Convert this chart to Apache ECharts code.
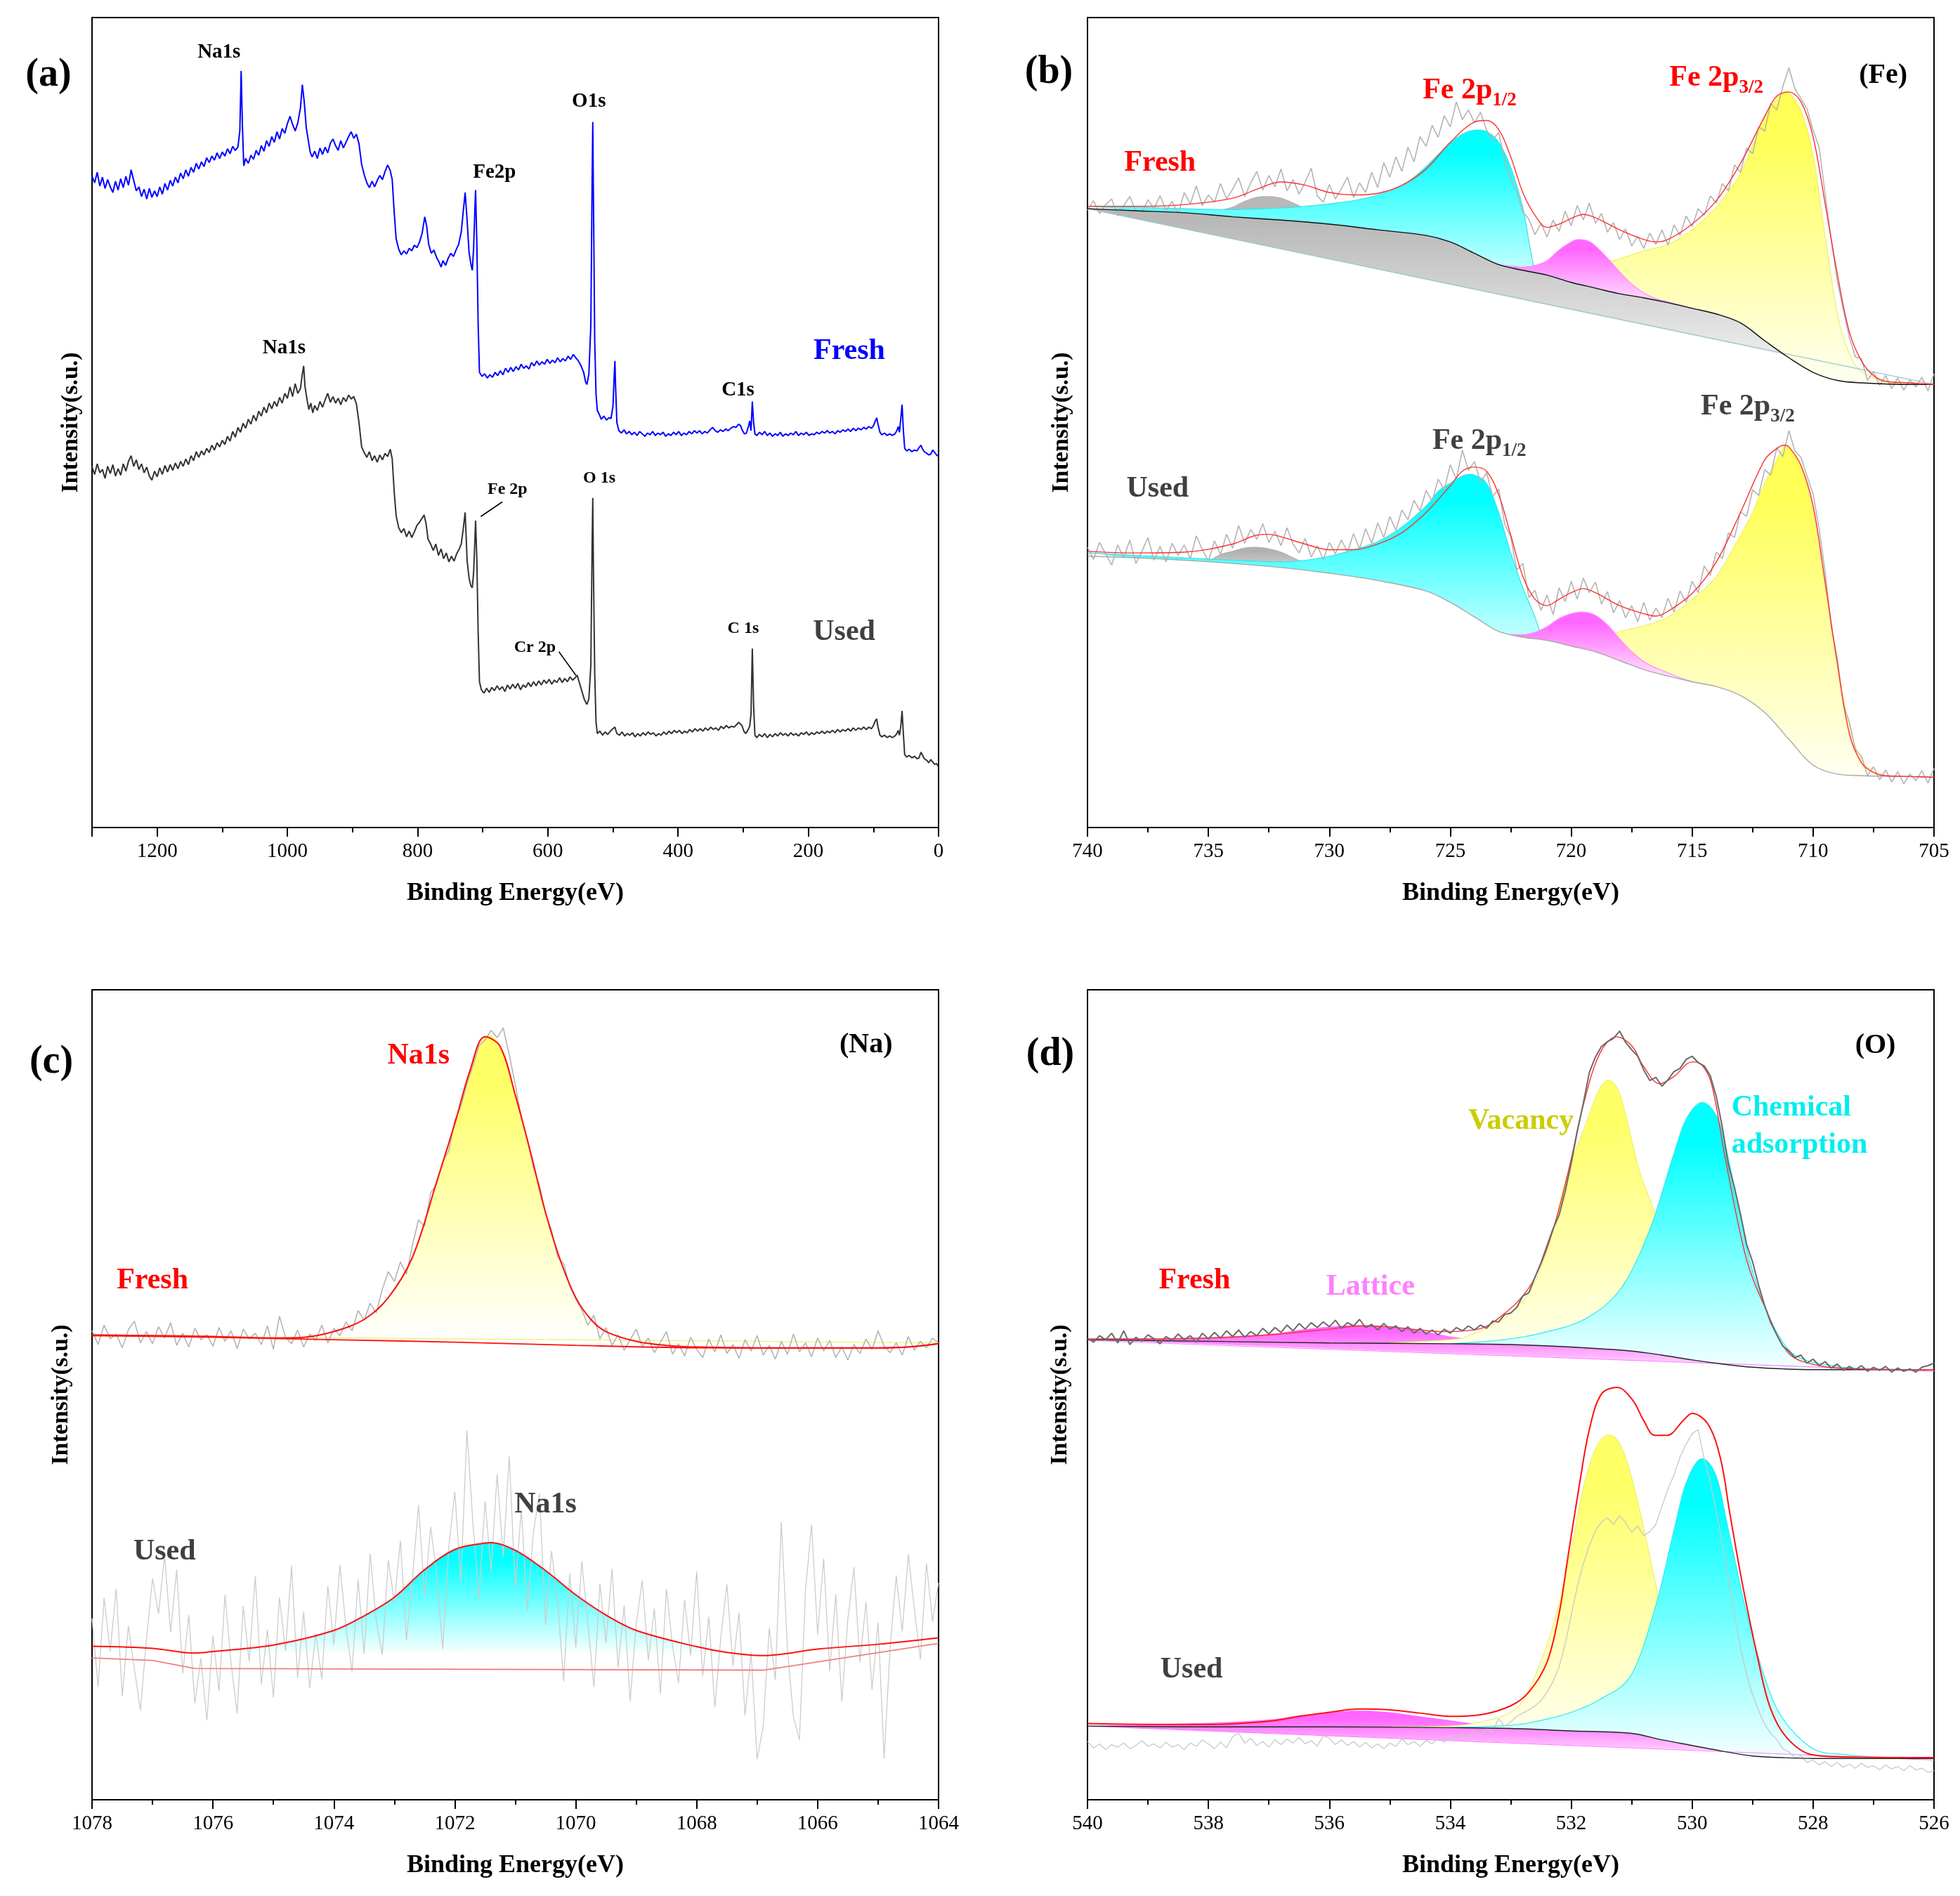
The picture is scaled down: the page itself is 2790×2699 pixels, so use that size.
<!DOCTYPE html>
<html><head><meta charset="utf-8">
<script src="https://cdn.jsdelivr.net/npm/echarts@6/dist/echarts.min.js"></script>
<style>html,body{margin:0;padding:0;background:#fff}#c{width:2790px;height:2699px}</style>
</head><body><div id="c"></div>
<script>
// ================= DATA =================
// ---- panel (a): survey spectra ----
const aFresh = [[1300,80.4],[1296,79.6],[1292,80.9],[1288,79.2],[1284,80.3],[1280,78.9],[1276,80.0],[1272,79.1],[1268,78.4],[1264,79.8],[1260,78.7],[1256,80.1],[1252,79.0],[1248,80.4],[1244,79.3],[1240,81.2],[1236,79.9],[1232,78.6],[1228,79.1],[1224,77.9],[1220,78.8],[1216,77.6],[1212,78.9],[1208,77.8],[1204,78.6],[1200,77.9],[1196,79.1],[1192,78.2],[1188,79.5],[1184,78.7],[1180,79.9],[1176,79.2],[1172,80.3],[1168,79.6],[1164,80.8],[1160,80.1],[1156,81.2],[1152,80.4],[1148,81.5],[1144,80.9],[1140,82.0],[1136,81.3],[1132,82.2],[1128,81.6],[1124,82.7],[1120,82.1],[1116,82.9],[1112,82.4],[1108,83.3],[1104,82.6],[1100,83.4],[1096,82.9],[1092,83.8],[1088,83.2],[1084,84.1],[1080,83.6],[1076,84.0],[1073,86.0],[1071,93.4],[1069,86.5],[1067,81.7],[1064,82.6],[1060,82.0],[1056,83.0],[1052,82.5],[1048,83.6],[1044,83.0],[1040,84.2],[1036,83.5],[1032,84.8],[1028,84.1],[1024,85.3],[1020,84.6],[1016,85.9],[1012,85.0],[1008,86.3],[1004,85.7],[1000,86.9],[996,87.8],[992,86.8],[988,86.0],[984,87.0],[980,88.8],[977,91.7],[974,89.5],[971,86.4],[968,84.9],[965,83.4],[962,82.8],[958,83.5],[954,82.6],[950,83.9],[946,83.1],[942,84.0],[938,83.3],[934,84.5],[930,85.0],[926,84.2],[922,83.6],[918,84.8],[914,83.9],[910,84.6],[906,85.3],[902,85.9],[898,85.1],[894,85.6],[890,84.4],[886,81.9],[882,80.6],[878,79.6],[874,79.0],[870,79.8],[866,79.1],[862,79.9],[858,80.5],[854,80.0],[850,81.0],[846,81.8],[842,81.1],[839,80.0],[836,76.0],[833,72.7],[829,71.4],[825,70.7],[821,71.2],[817,70.8],[813,71.5],[809,71.2],[805,71.9],[801,71.6],[797,72.3],[793,73.4],[789,75.4],[786,74.2],[783,72.0],[779,70.9],[775,71.3],[771,70.4],[767,69.8],[764,69.2],[761,70.0],[757,69.4],[753,70.3],[749,70.9],[745,70.5],[741,71.3],[737,72.0],[733,73.5],[730,76.0],[727,78.4],[724,75.0],[721,71.0],[718,69.5],[716,68.8],[714,71.5],[712,76.5],[711,78.7],[709,72.0],[707,62.0],[705,56.2],[701,55.7],[697,56.0],[693,55.5],[689,55.9],[685,55.6],[681,56.2],[677,55.8],[673,56.4],[669,55.9],[665,56.7],[661,56.2],[657,56.8],[653,56.3],[649,56.9],[645,56.5],[641,57.2],[637,56.7],[633,57.0],[629,56.6],[625,57.4],[621,57.0],[617,57.6],[613,57.1],[609,57.5],[605,57.2],[601,57.8],[597,57.3],[593,57.7],[589,57.4],[585,58.0],[581,57.5],[577,57.9],[573,57.6],[569,58.2],[565,57.8],[561,58.4],[557,58.0],[553,57.6],[549,57.0],[545,56.2],[542,55.0],[540,54.7],[537,56.0],[534,62.0],[532,80.0],[531,87.1],[530,78.0],[528,60.0],[526,53.5],[524,51.5],[521,51.0],[518,50.4],[514,50.8],[510,50.3],[506,50.6],[503,50.5],[500,52.0],[498,56.0],[497,57.6],[496,54.5],[494,50.0],[491,49.0],[487,48.7],[483,49.1],[479,48.6],[475,48.9],[471,48.5],[467,48.8],[463,48.4],[459,48.9],[455,48.6],[451,48.3],[447,48.7],[443,48.5],[439,48.9],[435,48.4],[431,48.7],[427,48.5],[423,48.8],[419,48.3],[415,48.6],[411,48.4],[407,48.8],[403,48.5],[399,48.9],[395,48.4],[391,48.7],[387,48.5],[383,48.9],[379,48.6],[375,49.0],[371,48.7],[367,49.0],[363,48.6],[359,48.9],[355,48.7],[351,49.1],[347,49.4],[343,49.0],[339,48.8],[335,49.1],[331,48.9],[327,49.2],[323,49.0],[319,49.3],[315,49.5],[311,49.4],[307,49.8],[304,49.6],[301,49.0],[298,48.6],[295,48.7],[292,49.5],[290,50.2],[288,49.0],[286,52.6],[284,50.0],[282,48.6],[279,48.4],[275,48.8],[271,48.5],[267,48.9],[263,48.4],[259,48.7],[255,48.3],[251,48.6],[247,48.4],[243,48.8],[239,48.3],[235,48.6],[231,48.4],[227,48.7],[223,48.5],[219,48.9],[215,48.4],[211,48.7],[207,48.5],[203,48.8],[199,48.4],[195,48.6],[191,48.5],[187,48.8],[183,48.6],[179,48.9],[175,48.7],[171,49.0],[167,48.7],[163,48.9],[159,48.6],[155,49.0],[151,48.8],[147,49.1],[143,48.9],[139,49.2],[135,48.9],[131,49.3],[127,49.0],[123,49.3],[119,49.1],[115,49.4],[111,49.2],[107,49.5],[103,49.3],[100,49.6],[97,50.2],[95,50.6],[93,49.8],[90,48.8],[87,48.5],[83,48.7],[79,48.4],[75,48.6],[71,48.4],[67,48.6],[64,49.0],[62,49.5],[60,48.8],[58,50.5],[56,52.2],[54,49.0],[52,46.8],[49,46.5],[45,46.7],[41,46.4],[37,46.6],[33,46.5],[30,46.9],[27,47.2],[25,46.8],[22,46.4],[18,46.2],[15,46.0],[12,46.1],[9,46.6],[6,46.3],[3,46.0],[0,45.8]];
const aUsed = [[1300,44.5],[1296,43.6],[1292,44.9],[1288,43.8],[1284,44.2],[1280,43.1],[1276,44.6],[1272,43.7],[1268,44.8],[1264,43.4],[1260,44.3],[1256,43.5],[1252,44.9],[1248,44.0],[1244,45.2],[1240,45.9],[1236,44.6],[1232,45.4],[1228,44.2],[1224,44.9],[1220,43.8],[1216,44.5],[1212,43.4],[1208,42.9],[1204,44.0],[1200,43.3],[1196,44.4],[1192,43.6],[1188,44.7],[1184,43.9],[1180,44.8],[1176,44.1],[1172,45.0],[1168,44.3],[1164,45.2],[1160,44.6],[1156,45.5],[1152,44.8],[1148,45.9],[1144,45.3],[1140,46.4],[1136,45.7],[1132,46.5],[1128,46.0],[1124,46.8],[1120,46.3],[1116,47.2],[1112,46.6],[1108,47.5],[1104,47.0],[1100,47.8],[1096,47.3],[1092,48.3],[1088,47.7],[1084,48.9],[1080,48.2],[1076,49.4],[1072,48.8],[1068,49.9],[1064,49.3],[1060,50.4],[1056,49.8],[1052,50.9],[1048,50.2],[1044,51.4],[1040,50.8],[1036,51.9],[1032,51.2],[1028,52.4],[1024,51.7],[1020,52.6],[1016,52.0],[1012,53.1],[1008,52.4],[1004,53.6],[1000,53.0],[996,54.4],[992,53.2],[988,54.8],[984,53.6],[980,54.2],[977,56.0],[975,57.0],[973,54.5],[970,52.9],[967,51.6],[964,52.4],[961,51.2],[958,52.1],[954,51.5],[950,52.6],[946,51.9],[942,52.8],[938,53.6],[934,52.5],[930,53.2],[926,52.4],[922,53.0],[918,52.2],[914,53.1],[910,52.6],[906,53.4],[902,52.9],[898,53.2],[894,52.3],[890,50.0],[886,47.0],[882,46.3],[878,45.7],[874,46.4],[870,45.3],[866,45.9],[862,45.1],[858,46.0],[854,45.4],[850,46.2],[846,45.8],[842,46.7],[839,45.5],[836,41.5],[833,38.5],[829,37.0],[825,36.4],[821,36.9],[817,35.9],[813,36.6],[809,35.8],[805,36.5],[801,37.3],[797,37.7],[793,38.2],[790,38.6],[787,37.5],[784,35.6],[780,35.0],[776,34.2],[772,35.0],[768,33.6],[764,34.4],[760,33.2],[756,33.9],[752,32.8],[748,33.5],[744,32.9],[740,33.8],[736,34.4],[733,35.0],[730,36.8],[727,38.9],[724,33.0],[721,30.8],[718,29.8],[716,29.6],[714,31.5],[712,35.5],[711,37.9],[709,33.0],[707,24.0],[705,18.0],[702,17.0],[698,16.6],[694,17.2],[690,16.7],[686,17.3],[682,16.9],[678,17.5],[674,17.0],[670,17.4],[666,16.8],[662,17.6],[658,17.1],[654,17.7],[650,17.2],[646,17.8],[642,17.0],[638,17.6],[634,17.3],[630,17.9],[626,17.4],[622,18.0],[618,17.5],[614,18.1],[610,17.6],[606,18.2],[602,17.8],[598,18.3],[594,17.7],[590,18.2],[586,17.9],[582,18.5],[578,17.9],[574,18.4],[570,18.0],[566,18.6],[562,18.2],[558,18.5],[555,18.8],[552,18.0],[548,16.9],[544,15.8],[540,15.2],[537,15.9],[534,20.0],[532,35.0],[531,40.7],[530,32.0],[528,19.0],[526,13.0],[524,11.6],[520,11.9],[516,11.4],[512,11.8],[508,11.5],[504,11.9],[500,12.2],[497,12.4],[494,11.6],[490,11.4],[486,11.8],[482,11.3],[478,11.6],[474,11.4],[470,11.7],[466,11.2],[462,11.6],[458,11.3],[454,11.7],[450,11.4],[446,11.8],[442,11.5],[438,11.7],[434,11.3],[430,11.6],[426,11.4],[422,11.8],[418,11.5],[414,11.9],[410,11.6],[406,12.0],[402,11.7],[398,12.0],[394,11.6],[390,11.9],[386,11.7],[382,12.1],[378,11.8],[374,12.2],[370,11.9],[366,12.2],[362,11.9],[358,12.3],[354,12.0],[350,12.4],[346,12.1],[342,12.3],[338,12.0],[334,12.5],[330,12.2],[326,12.6],[322,12.3],[318,12.5],[314,12.4],[310,12.7],[307,13.0],[305,13.1],[302,12.6],[299,11.9],[296,11.6],[293,12.0],[290,12.5],[288,14.0],[286,22.1],[284,15.0],[282,11.4],[279,11.1],[275,11.5],[271,11.2],[267,11.6],[263,11.1],[259,11.5],[255,11.2],[251,11.6],[247,11.3],[243,11.7],[239,11.4],[235,11.6],[231,11.3],[227,11.7],[223,11.4],[219,11.6],[215,11.3],[211,11.7],[207,11.5],[203,11.8],[199,11.4],[195,11.7],[191,11.5],[187,11.8],[183,11.6],[179,11.9],[175,11.6],[171,11.9],[167,11.7],[163,12.0],[159,11.7],[155,12.1],[151,11.8],[147,12.1],[143,11.9],[139,12.2],[135,11.9],[131,12.3],[127,12.0],[123,12.3],[119,12.1],[115,12.4],[111,12.1],[107,12.4],[103,12.2],[100,12.6],[97,13.2],[95,13.4],[93,12.4],[90,11.4],[87,11.2],[83,11.4],[79,11.1],[75,11.3],[71,11.1],[67,11.3],[64,11.6],[62,12.0],[60,11.4],[58,12.5],[56,14.4],[54,11.5],[52,9.0],[49,8.7],[45,8.9],[41,8.6],[37,8.8],[33,8.5],[30,8.6],[27,9.3],[25,9.0],[22,8.5],[18,8.3],[15,8.0],[12,8.4],[9,8.1],[6,7.8],[3,7.9],[0,7.5]];
const aFeLeader = [[703,38.4],[670,40.2]];
const aCrLeader = [[583,21.7],[557,18.8]];

// ---- panel (b): Fe 2p ----
const bRawStart = 740, bRawStep = -0.25;
const bFreshRaw = [76.2,77.4,75.8,76.9,77.6,75.5,76.8,77.9,76.1,75.9,77.5,76.4,78.0,76.2,77.3,75.7,78.4,77.0,79.2,76.8,78.1,77.2,79.5,77.6,78.8,80.2,77.9,79.6,81.0,78.7,80.5,79.1,81.3,78.6,80.0,78.2,79.7,81.4,78.0,77.2,79.4,77.6,78.9,80.3,77.8,79.6,78.4,80.9,79.0,82.1,80.3,82.8,81.0,84.0,82.2,85.3,84.1,86.7,85.2,87.9,86.5,89.6,87.4,88.6,87.0,88.3,86.1,84.9,85.8,82.4,80.1,78.5,76.0,75.1,73.2,74.6,72.9,75.0,73.6,76.1,74.3,76.8,75.0,77.1,74.6,75.8,73.5,74.7,72.6,73.9,71.8,73.0,71.5,73.4,72.0,73.8,71.9,74.4,73.1,75.5,74.2,76.4,75.6,78.0,77.1,79.5,78.6,81.8,80.9,83.9,83.2,86.5,86.0,89.4,88.6,91.5,93.8,91.2,90.0,88.7,86.1,84.0,78.2,72.6,67.5,63.9,60.5,58.1,57.9,55.2,56.3,54.6,55.8,54.2,55.5,54.0,55.3,54.4,55.6,53.9,56.0];
const bUsedRaw = [34.6,33.1,35.2,33.8,32.4,34.9,33.3,35.5,32.6,34.1,35.8,33.0,34.7,32.8,35.1,33.6,34.9,33.2,36.0,34.3,32.9,35.4,33.7,36.2,34.5,37.3,35.1,36.8,35.6,37.5,35.2,36.6,34.8,37.0,35.0,33.9,35.7,33.4,34.8,33.1,35.2,33.8,35.5,34.0,36.3,34.4,36.9,35.1,37.6,35.8,38.4,36.7,39.2,38.0,40.4,39.1,41.6,40.3,43.0,41.7,44.8,43.0,46.6,44.1,45.2,42.6,43.8,40.9,41.8,37.5,35.9,31.8,32.6,28.4,29.3,26.8,28.7,26.3,29.6,27.9,30.4,28.2,30.8,29.0,30.3,27.6,29.1,26.5,28.0,25.9,27.4,25.4,27.8,25.6,27.1,25.9,28.3,26.6,29.2,27.8,30.4,29.0,32.3,31.1,34.0,33.2,36.4,35.8,39.0,38.4,41.7,41.0,44.2,43.5,46.9,45.8,49.0,46.5,45.7,43.4,41.2,36.9,31.5,24.8,20.9,15.2,13.0,9.6,8.8,6.4,7.5,5.9,7.1,5.6,6.9,5.4,6.6,5.8,7.0,5.5,7.3];
const bFreshEnv = [[740,76.7],[738,76.7],[736,76.9],[734,77.7],[733,78.8],[732,79.7],[731,79.3],[730,78.4],[729,78.1],[728,78.3],[727,79.3],[726,81.3],[725,84.6],[724,87.1],[723.5,87.3],[723,86.2],[722.5,82.8],[722,78.4],[721.5,75.6],[721,74.1],[720.5,74.5],[720,75.2],[719.5,75.7],[719,75.3],[718,73.8],[717,72.6],[716.5,72.3],[716,72.6],[715,74.5],[714,77.4],[713,82.0],[712,87.8],[711.5,90.3],[711,90.8],[710.5,89.6],[710,85.3],[709.5,77.0],[709,68.4],[708.5,61.2],[708,57.6],[707.5,55.8],[707,55.1],[706,54.9],[705,54.7]];
const bFreshBg = [[740,76.4],[738,76.15],[736,75.9],[734,75.4],[732,75.0],[730,74.5],[728,73.8],[726,73.1],[725,72.3],[724,70.9],[723,69.5],[722,68.8],[721,68.2],[720,67.3],[719,66.6],[718,65.9],[717,65.4],[716,64.8],[715,64.1],[714,63.4],[713,62.3],[712,60.1],[711,58.0],[710,56.2],[709,55.2],[708,54.9],[706,54.7],[705,54.7]];
const bFreshLin = [[740,76.4],[705,54.7]];
const bFreshGray = [[740,76.4],[738,76.15],[736,75.9],[735,75.7],[734.5,76.2],[734,76.6],[733.5,77.3],[733,77.8],[732.5,77.9],[732,77.7],[731.5,77.1],[731,76.4],[730.5,75.6],[730,75.0],[729.5,74.4],[729,74.1],[728,73.8],[726,73.1],[725,72.3],[724,70.9],[723,69.5],[722,68.8],[721,68.2],[720,67.3],[719,66.6],[718,65.9],[717,65.4],[716,64.8],[715,64.1],[714,63.4],[713,62.3],[712,60.1],[711.2,58.4]];
const bFreshCyan = [[740,76.7],[738,76.6],[736,76.4],[734,76.3],[732,76.5],[731,76.7],[730,77.0],[729,77.4],[728,78.1],[727,79.2],[726.5,80.3],[726,81.6],[725.5,83.1],[725,84.5],[724.5,85.6],[724,86.1],[723.5,85.9],[723,84.6],[722.5,81.5],[722,76.5],[721.7,71.5],[721.5,68.5]];
const bFreshMag = [[723,69.5],[722.5,69.3],[722,69.2],[721.5,69.4],[721,70.0],[720.5,71.3],[720,72.3],[719.7,72.6],[719.3,72.4],[719,71.8],[718.5,70.3],[718,68.6],[717.5,67.1],[717,66.0],[716.5,65.3],[716,64.9],[715.5,64.5],[715,64.1]];
const bFreshYel = [[722,68.8],[721,68.9],[720,69.0],[719,69.4],[718,70.2],[717,71.2],[716,72.0],[715,73.8],[714,76.6],[713.5,78.5],[713,80.8],[712.5,84.2],[712,87.6],[711.5,90.0],[711.2,90.8],[711,90.7],[710.5,88.5],[710,83.0],[709.5,73.0],[709,63.5],[708.5,58.5],[708,56.3],[707,55.0],[706,54.75],[705,54.7]];
const bUsedEnv = [[740,34.1],[738,33.9],[736,34.0],[734,35.0],[733,36.1],[732.5,36.2],[732,35.9],[731,35.0],[730,34.3],[729,34.3],[728,35.0],[727,36.4],[726,38.9],[725,42.2],[724.5,44.0],[724,44.5],[723.5,44.0],[723,41.1],[722.5,36.1],[722,31.0],[721.5,28.2],[721,27.4],[720.5,28.2],[720,29.0],[719.5,29.5],[719,29.0],[718,27.4],[717,26.4],[716.5,26.1],[716,26.7],[715,28.9],[714,32.8],[713,38.9],[712,45.4],[711.5,46.8],[711.2,47.2],[711,47.0],[710.5,44.7],[710,39.7],[709.5,30.3],[709,20.3],[708.5,11.6],[708,8.0],[707.5,6.8],[707,6.4],[706,6.3],[705,6.2]];
const bUsedBg = [[740,33.5],[738,33.3],[736,33.0],[734,32.6],[732,32.1],[730,31.4],[728,30.5],[726,29.2],[725,27.8],[724,26.0],[723,24.2],[722,23.5],[721,23.1],[720,22.4],[719,21.7],[718,20.6],[717,19.5],[716,18.7],[715,18.0],[714,17.4],[713,16.3],[712,14.2],[711,10.9],[710,7.7],[709,6.6],[708,6.4],[706,6.3],[705,6.2]];
const bUsedGray = [[735,32.8],[734.5,33.7],[734,34.1],[733.5,34.5],[733,34.6],[732.5,34.4],[732,34.0],[731.5,33.3],[731,32.6],[730.5,31.9],[730,31.4]];
const bUsedCyan = [[740,33.9],[738,33.6],[736,33.3],[734,33.0],[732,32.8],[731,33.0],[730,33.5],[729,34.3],[728,35.3],[727,37.1],[726,39.7],[725.5,41.5],[725,42.5],[724.5,43.4],[724.2,43.6],[724,43.5],[723.5,42.5],[723,38.9],[722.5,33.9],[722,29.6],[721.5,26.0],[721.2,23.2]];
const bUsedMag = [[722.5,23.85],[722,23.8],[721.5,24.1],[721,24.8],[720.5,25.8],[720,26.4],[719.5,26.6],[719,26.2],[718.5,25.0],[718,23.3],[717.5,21.7],[717,20.5],[716.5,19.7],[716,19.1],[715.5,18.5],[715,18.0]];
const bUsedYel = [[721,23.1],[720,23.0],[719,23.0],[718.5,23.6],[718,24.2],[717,24.9],[716,26.0],[715,28.2],[714,31.0],[713,36.1],[712.5,38.9],[712,42.5],[711.5,45.4],[711.2,47.0],[711,46.9],[710.5,44.6],[710,38.9],[709.5,29.6],[709,20.3],[708.5,12.4],[708,8.4],[707.5,7.0],[707,6.4],[706,6.3],[705,6.2]];

// ---- panel (c): Na 1s ----
const cRawStart = 1078, cRawStep = -0.1;
const cFreshRaw = [57.9,56.2,58.6,56.9,57.5,55.8,58.0,59.1,56.4,57.8,56.3,58.4,57.0,58.9,56.1,57.6,55.9,58.2,56.8,57.4,56.0,58.3,56.6,57.9,55.7,58.1,56.9,57.6,56.2,58.5,55.6,59.7,57.1,56.3,58.0,55.9,57.5,56.7,58.6,56.4,58.2,57.3,59.0,57.9,60.4,59.2,61.3,60.1,63.0,65.2,64.0,66.4,64.9,68.5,71.6,70.8,74.9,76.0,78.8,80.1,83.9,85.6,88.4,90.6,93.1,93.8,95.0,94.1,95.3,92.0,88.3,84.2,81.5,78.0,75.9,72.4,70.3,67.0,66.2,63.4,61.8,60.5,58.6,59.8,56.9,58.3,56.1,57.4,55.5,56.8,58.1,55.9,57.0,55.2,56.5,57.8,55.0,56.3,54.8,57.1,55.6,54.6,56.9,55.3,57.4,55.1,56.2,54.5,56.8,55.4,57.3,54.9,56.1,54.4,56.6,55.0,57.5,55.3,56.4,54.7,57.0,55.4,56.7,54.6,55.9,54.3,56.2,55.1,56.9,55.6,57.9,56.0,55.2,56.4,54.9,57.2,55.5,56.6,55.8,57.0,56.4];
const cUsedRaw = [22.4,14.0,24.9,18.3,26.1,12.8,21.5,16.2,11.0,19.8,27.3,23.0,30.1,20.7,28.4,15.6,22.8,11.9,17.5,9.8,20.2,13.4,25.3,16.8,10.7,23.9,17.1,27.6,14.2,21.0,12.6,25.0,18.4,28.9,15.0,23.2,13.8,20.5,14.9,26.4,19.1,29.0,21.3,15.8,27.2,18.0,30.4,22.1,17.9,29.6,24.3,32.0,19.7,27.5,36.4,25.1,33.7,28.0,18.6,31.2,38.0,27.0,45.6,34.1,24.8,36.9,28.3,40.2,30.0,42.4,26.2,35.8,23.4,33.0,37.8,21.6,30.7,24.5,14.6,27.9,18.8,29.4,21.8,13.9,26.7,19.4,28.5,16.3,24.0,12.2,21.7,27.1,17.2,23.6,13.1,26.0,19.0,14.4,24.7,17.8,28.2,15.3,22.6,11.4,20.1,26.6,16.5,23.1,10.4,18.2,5.0,9.1,21.2,14.8,34.3,18.7,10.2,7.4,25.9,34.0,20.4,29.8,15.9,25.4,12.1,22.3,28.7,17.0,24.4,13.6,21.9,5.1,18.9,27.7,20.8,30.3,23.5,17.3,29.2,22.0,26.8];
const cFreshEnv = [[1078,57.4],[1077,57.3],[1076,57.2],[1075,57.0],[1074.5,57.1],[1074,57.8],[1073.5,59.3],[1073.1,62.0],[1072.7,67.0],[1072.3,76.3],[1072,83.5],[1071.75,90.0],[1071.5,94.2],[1071.25,93.0],[1071,87.0],[1070.75,80.0],[1070.5,72.5],[1070.25,66.5],[1070,62.0],[1069.75,59.3],[1069.5,57.8],[1069,56.6],[1068.5,56.1],[1068,55.9],[1067,55.8],[1066,55.8],[1065,55.8],[1064.5,55.9],[1064,56.3]];
const cFreshBg = [[1078,57.3],[1076,57.1],[1074,56.8],[1072,56.5],[1070,56.1],[1068,55.8],[1066,55.75],[1065,55.75],[1064.5,55.9],[1064,56.3]];
const cFreshLin = [[1078,57.3],[1064,56.4]];
const cFreshYel = [[1074.6,57.1],[1074,57.8],[1073.5,59.3],[1073.1,62.0],[1072.7,67.0],[1072.3,76.3],[1072,83.5],[1071.75,90.0],[1071.5,94.2],[1071.25,93.0],[1071,87.0],[1070.75,80.0],[1070.5,72.5],[1070.25,66.5],[1070,62.0],[1069.75,59.3],[1069.5,57.8],[1069.2,56.8]];
const cUsedEnv = [[1078,18.95],[1077,18.7],[1076.3,18.1],[1076,18.3],[1075,19.1],[1074,20.9],[1073.5,22.7],[1073,25.0],[1072.5,28.4],[1072,30.9],[1071.5,31.7],[1071.4,31.75],[1071,30.8],[1070.5,28.3],[1070,25.3],[1069.5,22.8],[1069,20.9],[1068,18.9],[1067.5,18.2],[1066.9,17.8],[1066,18.6],[1065,19.2],[1064,20.0]];
const cUsedBg = [[1078,17.5],[1077,17.2],[1076.3,16.2],[1066.9,16.0],[1064,19.3]];
const cUsedCyan = [[1076.3,18.1],[1076,18.3],[1075,19.1],[1074,20.9],[1073.5,22.7],[1073,25.0],[1072.5,28.4],[1072,30.9],[1071.5,31.7],[1071.4,31.75],[1071,30.8],[1070.5,28.3],[1070,25.3],[1069.5,22.8],[1069,20.9],[1068,18.9],[1067.5,18.2],[1066.9,17.8]];

// ---- panel (d): O 1s ----
const dRawStart = 540, dRawStep = -0.1;
const dFreshRaw = [57.0,56.5,57.3,56.8,57.6,56.4,57.9,56.2,57.1,56.6,57.4,56.9,56.3,57.2,56.7,57.5,56.8,57.3,56.5,57.6,56.9,57.7,57.0,57.9,57.2,58.0,57.1,57.8,57.3,58.2,57.5,58.3,57.7,58.6,57.9,58.8,58.1,58.9,58.3,59.0,58.4,59.2,58.2,58.9,58.5,59.3,58.3,58.7,58.0,58.8,58.1,58.5,57.8,58.4,57.6,58.2,57.5,58.0,57.4,58.1,57.6,58.3,57.9,58.5,58.0,58.6,58.2,59.1,59.0,59.9,60.1,60.8,62.2,62.6,64.5,66.3,68.4,70.5,72.2,75.1,78.6,82.5,86.0,89.8,91.7,93.0,93.6,94.0,94.9,93.5,92.6,91.8,90.1,88.8,89.2,88.1,88.9,89.9,90.3,91.4,91.8,91.0,90.6,89.4,86.8,83.0,78.4,75.6,72.3,68.6,66.4,63.5,61.0,58.9,57.4,56.0,55.4,54.6,54.9,53.9,54.4,53.6,54.1,53.3,53.8,53.0,53.5,53.1,53.6,52.9,53.4,53.0,53.5,52.8,53.3,52.9,53.2,52.8,53.4,53.6,53.9];
const dUsedRaw = [7.2,6.4,6.9,6.2,6.8,6.5,7.0,6.3,6.7,7.3,6.6,6.9,6.4,7.1,6.5,6.8,6.2,7.0,6.6,7.4,6.9,6.3,7.1,6.4,7.8,8.2,7.0,7.6,6.7,7.2,6.5,7.4,6.8,7.5,7.0,7.7,6.9,7.3,6.6,7.9,7.6,6.8,7.4,6.7,7.2,6.5,7.1,6.4,6.9,6.3,7.0,6.6,7.5,6.8,7.2,6.6,7.3,6.9,7.7,7.1,7.9,7.4,8.2,7.6,8.5,8.0,8.8,8.4,10.0,9.1,9.6,10.3,10.7,11.1,11.6,12.2,13.3,14.6,16.4,19.2,22.8,26.3,29.1,31.4,33.2,34.3,34.8,34.0,35.1,34.2,33.0,33.8,32.6,33.1,34.0,36.2,38.4,40.1,42.3,43.9,45.2,45.7,42.1,39.2,35.5,31.6,27.5,22.9,18.7,15.5,12.9,11.0,9.3,8.2,7.4,6.3,5.9,5.2,5.4,4.6,4.9,4.3,4.7,4.1,4.6,4.0,4.4,3.9,4.5,4.0,4.2,3.7,4.3,3.8,4.1,3.6,4.2,3.7,3.9,3.4,3.6];
const dFreshEnv = [[540,56.9],[539,56.9],[538,57.0],[537,57.4],[536,58.1],[535.5,58.5],[535,58.4],[534.5,58.0],[534.13,57.8],[533.54,58.1],[533.06,60.3],[532.7,63.2],[532.47,66.7],[532.24,71.9],[532.0,79.1],[531.82,85.2],[531.53,92.1],[531.25,94.2],[531.0,93.1],[530.8,90.5],[530.54,88.4],[530.3,89.3],[530.0,91.1],[529.85,90.8],[529.68,88.4],[529.45,79.1],[529.1,66.7],[528.8,60.9],[528.4,55.1],[527.9,53.6],[527.3,53.2],[526,53.1]];
const dFreshBg = [[540,56.8],[538,56.6],[536,56.4],[534,56.3],[533,56.2],[532,55.9],[531,55.4],[530.5,54.9],[530,54.3],[529.5,53.8],[529,53.4],[528.5,53.2],[528,53.1],[526,53.1]];
const dFreshLin = [[540,56.7],[526,52.9]];
const dFreshMag = [[540,56.8],[539,56.95],[538,57.1],[537,57.5],[536.5,58.0],[536,58.4],[535.5,58.6],[535,58.4],[534.5,57.9],[534,57.2],[533.5,56.7],[533,56.3],[532,55.9],[531,55.4],[530.5,54.9],[530,54.3],[529.5,53.8],[529,53.4],[528.5,53.2],[528,53.1],[527,53.0],[526,52.95]];
const dFreshYel = [[535,56.4],[534,56.8],[533.66,57.4],[533.06,59.7],[532.65,63.2],[532.35,69.0],[532.05,77.6],[531.76,83.4],[531.55,87.5],[531.38,88.8],[531.2,87.2],[531.0,81.5],[530.87,77.6],[530.6,71.9],[530.4,65.5],[530.2,60.5],[530,57.5],[529.8,55.8],[529.5,54.3],[529,53.4]];
const dFreshCyan = [[534,56.3],[533.24,56.7],[532.5,57.6],[531.76,59.4],[531.17,63.2],[530.7,70.4],[530.33,79.1],[530.1,84.0],[529.83,86.1],[529.57,84.0],[529.4,79.1],[529.2,71.9],[529.03,66.1],[528.8,60.9],[528.5,56.5],[528.2,54.5],[527.6,53.5],[527,53.2],[526,53.1]];
const dUsedEnv = [[540,9.4],[539,9.3],[538,9.3],[537,9.7],[536.5,10.3],[536,10.8],[535.5,11.2],[535,11.1],[534.5,10.7],[534,10.3],[533.5,10.5],[533,11.6],[532.7,13.3],[532.4,17.0],[532.2,23.0],[532.06,29.7],[531.86,39.1],[531.7,45.7],[531.5,50.1],[531.24,50.9],[530.98,49.3],[530.8,46.8],[530.62,45.0],[530.41,45.0],[530.15,46.8],[530.0,47.7],[529.74,46.4],[529.53,42.1],[529.38,35.5],[529.17,26.7],[528.91,17.3],[528.71,11.4],[528.45,7.8],[528.04,5.6],[527.5,5.3],[526,5.2]];
const dUsedBg = [[540,9.1],[538,9.0],[536,9.0],[534,8.9],[533,8.8],[532,8.5],[531,8.2],[530.5,7.4],[530,6.7],[529.5,6.0],[529,5.4],[528.5,5.2],[528,5.1],[526,5.1]];
const dUsedLin = [[540,9.1],[526,4.9]];
const dUsedMag = [[540,9.1],[538,9.5],[537,9.9],[536.5,10.4],[536,10.8],[535.5,11.0],[535,10.8],[534.5,10.3],[534,9.8],[533.5,9.3],[533,8.9],[532,8.5],[531,8.2],[530.5,7.4],[530,6.7],[529.5,6.0],[529,5.4],[528.5,5.2],[528,5.1],[526,5.0]];
const dUsedYel = [[535,9.0],[534,9.1],[533.5,9.6],[533,10.8],[532.7,13.5],[532.3,21.5],[532,31.0],[531.8,38.5],[531.6,43.3],[531.4,45.0],[531.2,44.0],[531,39.8],[530.8,33.5],[530.6,26.5],[530.4,19.5],[530.2,14.5],[530,11.0],[529.8,8.9],[529.5,7.3],[529,5.6]];
const dUsedCyan = [[534,8.9],[533,9.2],[532.5,9.8],[532,10.8],[531.5,12.5],[531,15.5],[530.6,24.0],[530.3,33.3],[530.1,39.1],[529.85,42.1],[529.6,39.9],[529.4,33.3],[529.1,23.1],[528.8,15.1],[528.5,10.0],[528,6.3],[527.5,5.6],[527,5.3],[526,5.1]];

// axis ticks / ranges
const xRanges = [[0,1300,200],[705,740,5],[1064,1078,2],[526,540,2]];
const panelTags = ['(a)','(b)','(c)','(d)'];

// ================= BUILD =================
const FONT = 'Liberation Serif';
const grids = [
  {left:131, top:25, width:1205, height:1153},
  {left:1548, top:25, width:1205, height:1153},
  {left:131, top:1409, width:1205, height:1153},
  {left:1548, top:1409, width:1205, height:1153}
];
const yNameGap = [13, 20, 27, 22];
const S = [];
const series = (start, step, arr) => arr.map((v,i)=>[+(start+i*step).toFixed(3), v]);

function line(gi, data, color, width, smooth, z){
  S.push({type:'line', xAxisIndex:gi, yAxisIndex:gi, data, symbol:'none', showSymbol:false,
    smooth: smooth ? 0.35 : false, lineStyle:{color, width, opacity:1}, z: z||3, silent:true, animation:false});
}
function cr(pts, n){
  const out=[];
  for(let i=0;i<pts.length-1;i++){
    const p0=pts[i-1]||pts[i], p1=pts[i], p2=pts[i+1], p3=pts[i+2]||pts[i+1];
    for(let k=0;k<n;k++){
      const t=k/n,t2=t*t,t3=t2*t;
      const f=(a,b,c,d)=>0.5*((2*b)+(-a+c)*t+(2*a-5*b+4*c-d)*t2+(-a+3*b-3*c+d)*t3);
      out.push([f(p0[0],p1[0],p2[0],p3[0]), f(p0[1],p1[1],p2[1],p3[1])]);
    }
  }
  out.push(pts[pts.length-1]);
  return out;
}
function fill(gi, upper, lower, c0, c1, stroke, z){
  S.push({type:'custom', coordinateSystem:'cartesian2d', xAxisIndex:gi, yAxisIndex:gi, data:[upper[0]], z:z||1,
    silent:true, animation:false, clip:true,
    renderItem(params, api){
      const xs=upper.map(p=>p[0]); const lo=Math.min(...xs), hi=Math.max(...xs);
      const desc = upper[0][0] > upper[upper.length-1][0];
      const inner = lower.filter(p=>p[0]>lo+1e-6 && p[0]<hi-1e-6).slice().sort((a,b)=>desc? a[0]-b[0] : b[0]-a[0]);
      const up = upper.map(p=>api.coord(p));
      const back = [up[up.length-1]].concat(inner.map(p=>api.coord(p)), [up[0]]);
      const top = cr(up, 8);
      const pts = top.concat(cr(back, 8).slice(1,-1));
      const children=[{type:'polygon', shape:{points:pts}, style:{fill:new echarts.graphic.LinearGradient(0,0,0,1,[{offset:0,color:c0},{offset:0.15,color:c0},{offset:1,color:c1}])}}];
      if (stroke) children.push({type:'polyline', shape:{points:top}, style:{stroke, lineWidth:1.2, fill:null}});
      return {type:'group', children};
    }});
}
function label(gi, x, y, formatter, opt){
  S.push({type:'scatter', xAxisIndex:gi, yAxisIndex:gi, data:[[x,y]], symbolSize:1,
    itemStyle:{color:'rgba(0,0,0,0)', opacity:1}, z:10, silent:true, animation:false,
    label:Object.assign({show:true, position:'inside', formatter, fontFamily:FONT, fontWeight:'bold', opacity:1,
      textBorderWidth:0, textBorderColor:'transparent'}, opt)});
}
function sub(main, s, color, size){
  return {formatter:'{m|'+main+'}{s|'+s+'}', rich:{
    m:{fontSize:size, fontWeight:'bold', fontFamily:FONT, color, lineHeight:size*1.3},
    s:{fontSize:Math.round(size*0.64), fontWeight:'bold', fontFamily:FONT, color, lineHeight:Math.round(size*0.64), verticalAlign:'bottom'}}};
}
const GRAY='#404040', RED='#ff0000';

// ---- (a)
line(0, aFresh, '#0000ff', 2, false, 3);
line(0, aUsed, '#333333', 2, false, 3);
line(0, aFeLeader, '#000', 1.6, false, 4);
line(0, aCrLeader, '#000', 1.6, false, 4);
label(0, 1105, 95.7, 'Na1s', {fontSize:29, color:'#000'});
label(0, 537, 89.6, 'O1s', {fontSize:29, color:'#000'});
label(0, 682, 80.9, 'Fe2p', {fontSize:29, color:'#000'});
label(0, 137, 58.8, 'Fresh', {fontSize:42, color:'#0000ff'});
label(0, 308, 54.0, 'C1s', {fontSize:29, color:'#000'});
label(0, 1005, 59.2, 'Na1s', {fontSize:29, color:'#000'});
label(0, 662, 41.7, 'Fe 2p', {fontSize:24, color:'#000'});
label(0, 521, 43.1, 'O 1s', {fontSize:24, color:'#000'});
label(0, 620, 22.2, 'Cr 2p', {fontSize:24, color:'#000'});
label(0, 300, 24.6, 'C 1s', {fontSize:24, color:'#000'});
label(0, 145, 24.1, 'Used', {fontSize:42, color:GRAY});

// ---- (b)
fill(1, bFreshGray, bFreshLin, '#b8b8b8', '#ececec', '#b0b0b0', 1);
fill(1, bFreshYel, bFreshBg, '#ffff55', '#fffff4', '#f0f060', 1);
fill(1, bFreshCyan, bFreshBg, '#00ffff', '#c8ffff', '#40e0e0', 1);
fill(1, bFreshMag, bFreshBg, '#ff66ff', '#ffeeff', '#ff88ff', 1);
fill(1, bUsedGray, bUsedBg, '#b0b0b0', '#dcdcdc', '#b0b0b0', 1);
fill(1, bUsedYel, bUsedBg, '#ffff55', '#fffff4', '#f0f060', 1);
fill(1, bUsedCyan, bUsedBg, '#00ffff', '#c8ffff', '#40e0e0', 1);
fill(1, bUsedMag, bUsedBg, '#ff66ff', '#ffeeff', '#ff88ff', 1);
line(1, bFreshLin, '#9cc8c8', 1.2, false, 2);
line(1, series(bRawStart, bRawStep, bFreshRaw), '#b4b4b4', 1.6, false, 3);
line(1, series(bRawStart, bRawStep, bUsedRaw), '#b4b4b4', 1.6, false, 3);
line(1, bFreshBg, '#111111', 1.4, true, 4);
line(1, bUsedBg, '#a8a8a8', 1.4, true, 4);
line(1, bFreshEnv, '#ff3030', 1.4, true, 5);
line(1, bUsedEnv, '#ff3030', 1.4, true, 5);
label(1, 724.2, 91.0, null, sub('Fe 2p','1/2',RED,42));
label(1, 714.0, 92.5, null, sub('Fe 2p','3/2',RED,42));
label(1, 707.1, 92.8, '(Fe)', {fontSize:40, color:'#000'});
label(1, 737.0, 82.0, 'Fresh', {fontSize:42, color:RED});
label(1, 712.7, 51.9, null, sub('Fe 2p','3/2',GRAY,42));
label(1, 723.8, 47.7, null, sub('Fe 2p','1/2',GRAY,42));
label(1, 737.1, 41.8, 'Used', {fontSize:42, color:GRAY});

// ---- (c)
fill(2, cFreshYel, cFreshLin, '#ffff66', '#ffffff', null, 1);
fill(2, cUsedCyan, cUsedBg, '#00ffff', '#ffffff', null, 1);
line(2, cFreshLin, '#f0f070', 1.2, false, 2);
line(2, series(cRawStart, cRawStep, cFreshRaw), '#b0b0b0', 1.5, false, 3);
line(2, series(cRawStart, cRawStep, cUsedRaw), '#cccccc', 1.3, false, 3);
line(2, cFreshBg, '#ff1010', 1.8, true, 4);
line(2, cUsedBg, '#f08080', 1.8, false, 4);
line(2, cFreshEnv, '#ff1010', 2, true, 5);
line(2, cUsedEnv, '#ff1010', 2, true, 5);
label(2, 1072.6, 91.8, 'Na1s', {fontSize:42, color:RED});
label(2, 1065.2, 93.2, '(Na)', {fontSize:40, color:'#000'});
label(2, 1077.0, 64.1, 'Fresh', {fontSize:42, color:RED});
label(2, 1070.5, 36.4, 'Na1s', {fontSize:42, color:GRAY});
label(2, 1076.8, 30.6, 'Used', {fontSize:42, color:GRAY});

// ---- (d)
fill(3, dFreshMag, dFreshLin, '#ff66ff', '#ffe8ff', null, 1);
fill(3, dFreshYel, dFreshBg, '#ffff66', '#fffff8', '#f0f070', 1);
fill(3, dFreshCyan, dFreshBg, '#00ffff', '#f6ffff', '#30e8f0', 1);
fill(3, dUsedMag, dUsedLin, '#ff66ff', '#ffe8ff', null, 1);
fill(3, dUsedYel, dUsedBg, '#ffff66', '#fffff8', '#f0f070', 1);
fill(3, dUsedCyan, dUsedBg, '#00ffff', '#f6ffff', '#30e8f0', 1);
line(3, dFreshLin, '#ff80ff', 1.2, false, 2);
line(3, dUsedLin, '#ff80ff', 1.2, false, 2);
line(3, series(dRawStart, dRawStep, dUsedRaw), '#c8c8c8', 1.3, false, 3);
line(3, dFreshBg, '#222222', 1.4, true, 4);
line(3, dUsedBg, '#222222', 1.4, true, 4);
line(3, dFreshEnv, '#ff3030', 1.4, true, 5);
line(3, series(dRawStart, dRawStep, dFreshRaw), '#6a6a6a', 2, false, 5);
line(3, dUsedEnv, '#ff1010', 2, true, 5);
label(3, 526.97, 93.1, '(O)', {fontSize:40, color:'#000'});
label(3, 532.83, 83.8, 'Vacancy', {fontSize:42, color:'#cccc00'});
label(3, 529.35, 83.1, 'Chemical\nadsorption', {fontSize:42, color:'#00eeee', align:'left', lineHeight:53});
label(3, 538.23, 64.1, 'Fresh', {fontSize:42, color:RED});
label(3, 535.32, 63.3, 'Lattice', {fontSize:42, color:'#ff80ff'});
label(3, 538.28, 16.0, 'Used', {fontSize:42, color:GRAY});

const option = {
  backgroundColor:'#fff',
  animation:false,
  grid: grids.map(g=>Object.assign({show:true, borderColor:'#000', borderWidth:2, backgroundColor:'transparent', containLabel:false, outerBoundsMode:'none'}, g)),
  xAxis: xRanges.map((r,i)=>({type:'value', gridIndex:i, min:r[0], max:r[1], interval:r[2], inverse:true,
    name:'Binding Energy(eV)', nameLocation:'middle', nameGap:76,
    nameTextStyle:{fontFamily:FONT, fontWeight:'bold', fontSize:36, color:'#000'},
    axisLine:{show:true, onZero:false, lineStyle:{color:'#000', width:2}},
    axisTick:{show:true, inside:false, length:13, lineStyle:{color:'#000', width:2}},
    minorTick:{show:true, splitNumber:2, length:7, lineStyle:{color:'#000', width:2}},
    axisLabel:{show:true, margin:20, fontFamily:FONT, fontSize:29, color:'#000',
      formatter:(v)=>String(v), showMaxLabel: i===0 ? false : true, showMinLabel:true},
    splitLine:{show:false}, minorSplitLine:{show:false}})),
  yAxis: xRanges.map((r,i)=>({type:'value', gridIndex:i, min:0, max:100,
    name:'Intensity(s.u.)', nameLocation:'middle', nameGap:yNameGap[i],
    nameTextStyle:{fontFamily:FONT, fontWeight:'bold', fontSize:34, color:'#000'},
    axisLine:{show:true, lineStyle:{color:'#000', width:2}},
    axisTick:{show:false}, axisLabel:{show:false}, splitLine:{show:false}})),
  graphic: [[69,108],[1493,104],[73,1513],[1495,1502]].map((p,i)=>({type:'text', x:p[0], y:p[1], z:20,
    style:{text:panelTags[i], align:'center', verticalAlign:'middle', fontSize:56, fontWeight:'bold', fontFamily:FONT, fill:'#000'}})),
  series: S
};
const chart = echarts.init(document.getElementById('c'), null, {renderer:'canvas', width:2790, height:2699});
chart.setOption(option);
</script></body></html>
